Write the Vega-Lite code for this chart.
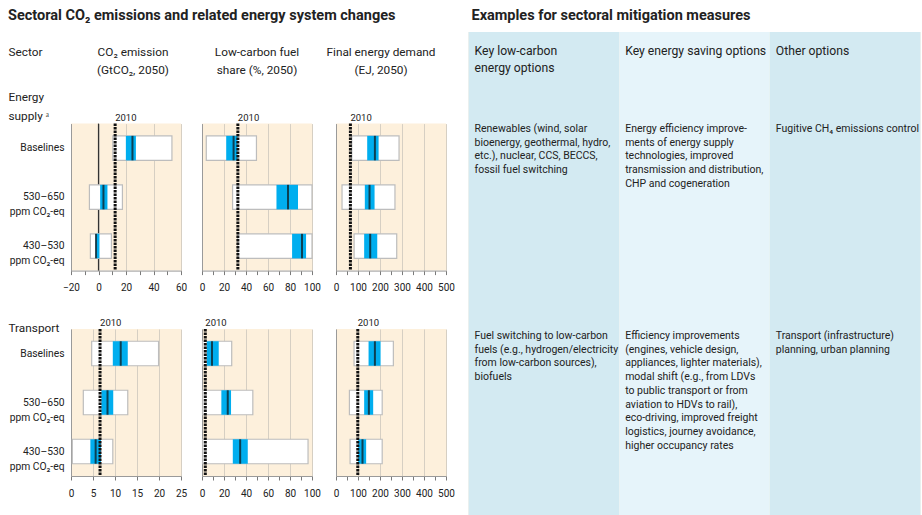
{
  "$schema": "https://vega.github.io/schema/vega-lite/v6.json",
  "background": "white",
  "padding": {"left": 8, "top": 8, "right": 0, "bottom": 0},
  "autosize": {"type": "pad"},
  "columns": 2,
  "align": "none",
  "spacing": 13.5,
  "datasets": {
    "indicators": [
      {"indicator": "CO2 emission", "header": "CO₂ emission\n(GtCO₂, 2050)", "level": "Sector"},
      {"indicator": "Low-carbon fuel share", "header": "Low-carbon fuel\nshare (%, 2050)", "level": "Sector"},
      {"indicator": "Final energy demand", "header": "Final energy demand\n(EJ, 2050)", "level": "Sector"}
    ],
    "boxes": [
      {"sector": "Energy supply", "indicator": "CO2 emission", "scenario": "Baselines", "min": 10.4, "q1": 19.9, "median": 24.7, "q3": 27.2, "max": 53.4},
      {"sector": "Energy supply", "indicator": "CO2 emission", "scenario": "530–650 ppm CO₂-eq", "min": -6.6, "q1": 1.2, "median": 3.6, "q3": 6.5, "max": 17.4},
      {"sector": "Energy supply", "indicator": "CO2 emission", "scenario": "430–530 ppm CO₂-eq", "min": -5.9, "q1": -2.2, "median": -1.8, "q3": 0.7, "max": 9.4},
      {"sector": "Energy supply", "indicator": "Low-carbon fuel share", "scenario": "Baselines", "min": 3.9, "q1": 22, "median": 28.7, "q3": 32.3, "max": 49.5},
      {"sector": "Energy supply", "indicator": "Low-carbon fuel share", "scenario": "530–650 ppm CO₂-eq", "min": 27.8, "q1": 67.7, "median": 78.2, "q3": 87.3, "max": 100},
      {"sector": "Energy supply", "indicator": "Low-carbon fuel share", "scenario": "430–530 ppm CO₂-eq", "min": 32.5, "q1": 81.9, "median": 90.9, "q3": 94.6, "max": 100},
      {"sector": "Energy supply", "indicator": "Final energy demand", "scenario": "Baselines", "min": 71.6, "q1": 141.8, "median": 176.8, "q3": 193.6, "max": 286.6},
      {"sector": "Energy supply", "indicator": "Final energy demand", "scenario": "530–650 ppm CO₂-eq", "min": 27.4, "q1": 131, "median": 152.4, "q3": 175.3, "max": 268},
      {"sector": "Energy supply", "indicator": "Final energy demand", "scenario": "430–530 ppm CO₂-eq", "min": 82.3, "q1": 128, "median": 155.5, "q3": 187.5, "max": 276},
      {"sector": "Transport", "indicator": "CO2 emission", "scenario": "Baselines", "min": 4.7, "q1": 9.5, "median": 11.3, "q3": 12.9, "max": 19.9},
      {"sector": "Transport", "indicator": "CO2 emission", "scenario": "530–650 ppm CO₂-eq", "min": 2.8, "q1": 6.9, "median": 8.3, "q3": 9.6, "max": 12.9},
      {"sector": "Transport", "indicator": "CO2 emission", "scenario": "430–530 ppm CO₂-eq", "min": 0.3, "q1": 4.4, "median": 5.6, "q3": 6.8, "max": 9.5},
      {"sector": "Transport", "indicator": "Low-carbon fuel share", "scenario": "Baselines", "min": 0.5, "q1": 4.3, "median": 9.1, "q3": 15.2, "max": 27},
      {"sector": "Transport", "indicator": "Low-carbon fuel share", "scenario": "530–650 ppm CO₂-eq", "min": 0.5, "q1": 17.6, "median": 23.4, "q3": 26.4, "max": 46.2},
      {"sector": "Transport", "indicator": "Low-carbon fuel share", "scenario": "430–530 ppm CO₂-eq", "min": 0.5, "q1": 28, "median": 34.7, "q3": 41.6, "max": 96.4},
      {"sector": "Transport", "indicator": "Final energy demand", "scenario": "Baselines", "min": 82, "q1": 148, "median": 176.8, "q3": 202.7, "max": 260.7},
      {"sector": "Transport", "indicator": "Final energy demand", "scenario": "530–650 ppm CO₂-eq", "min": 61, "q1": 128, "median": 149.4, "q3": 169, "max": 210},
      {"sector": "Transport", "indicator": "Final energy demand", "scenario": "430–530 ppm CO₂-eq", "min": 64, "q1": 100.6, "median": 120.4, "q3": 137, "max": 210}
    ],
    "ref2010": [
      {"sector": "Energy supply", "indicator": "CO2 emission", "year": "2010", "value": 12.1},
      {"sector": "Energy supply", "indicator": "Low-carbon fuel share", "year": "2010", "value": 32.6},
      {"sector": "Energy supply", "indicator": "Final energy demand", "year": "2010", "value": 65.5},
      {"sector": "Transport", "indicator": "CO2 emission", "year": "2010", "value": 6.6},
      {"sector": "Transport", "indicator": "Low-carbon fuel share", "year": "2010", "value": 3},
      {"sector": "Transport", "indicator": "Final energy demand", "year": "2010", "value": 99}
    ],
    "options": [
      {"row": "header", "col": "low-carbon", "text": "Key low-carbon\nenergy options"},
      {"row": "header", "col": "saving", "text": "Key energy saving options"},
      {"row": "header", "col": "other", "text": "Other options"},
      {"row": "Energy supply", "col": "low-carbon", "text": "Renewables (wind, solar\nbioenergy, geothermal, hydro,\netc.), nuclear, CCS, BECCS,\nfossil fuel switching"},
      {"row": "Energy supply", "col": "saving", "text": "Energy efficiency improve-\nments of energy supply\ntechnologies, improved\ntransmission and distribution,\nCHP and cogeneration"},
      {"row": "Energy supply", "col": "other", "text": "Fugitive CH₄ emissions control"},
      {"row": "Transport", "col": "low-carbon", "text": "Fuel switching to low-carbon\nfuels (e.g., hydrogen/electricity\nfrom low-carbon sources),\nbiofuels"},
      {"row": "Transport", "col": "saving", "text": "Efficiency improvements\n(engines, vehicle design,\nappliances, lighter materials),\nmodal shift (e.g., from LDVs\nto public transport or from\naviation to HDVs to rail),\neco-driving, improved freight\nlogistics, journey avoidance,\nhigher occupancy rates"},
      {"row": "Transport", "col": "other", "text": "Transport (infrastructure)\nplanning, urban planning"}
    ]
  },
  "concat": [
    {
      "title": {"text": "Sectoral CO₂ emissions and related energy system changes", "anchor": "start", "offset": 8.5},
      "spacing": 9.6,
      "vconcat": [
        {
          "width": 372, "height": 50,
          "view": {"fill": null, "stroke": null},
          "data": {"name": "indicators"},
          "mark": {"type": "text", "align": "center", "baseline": "alphabetic", "dy": -1.5, "fontSize": 11.8, "lineHeight": 18, "lineBreak": "\n"},
          "encoding": {
            "x": {"field": "indicator", "type": "nominal", "scale": {"domain": ["CO2 emission", "Low-carbon fuel share", "Final energy demand"], "paddingInner": 0.255, "paddingOuter": 0}, "axis": null},
            "y": {"field": "level", "type": "nominal", "scale": {"paddingInner": 0, "paddingOuter": 0},
                  "axis": {"title": "Sector", "labels": false, "ticks": false, "domain": false, "grid": false, "titleAngle": 0, "titleAlign": "left", "titleBaseline": "alphabetic", "titleX": -63, "titleY": 23.5, "titleFontSize": 11.8}},
            "text": {"field": "header"}
          }
        },
        {
          "columns": 3,
          "align": "each",
          "spacing": {"row": 25.4, "column": 12},
          "concat": [
            {
              "width": 110, "height": 147,
              "layer": [
                {"data": {"values": [{}]}, "mark": {"type": "rule", "color": "#333333", "strokeWidth": 1.2},
                 "encoding": {"x": {"datum": 0, "type": "quantitative", "axis": {"orient": "bottom", "title": null, "values": [-20, -10, 0, 10, 20, 30, 40, 50, 60], "labelExpr": "datum.value % 20 === 0 ? datum.label : ''", "gridOpacity": {"condition": {"test": "datum.value % 20 === 0", "value": 1}, "value": 0}}}}},
                {"data": {"name": "boxes"}, "transform": [{"filter": "datum.sector === 'Energy supply' && datum.indicator === 'CO2 emission'"}],
                 "mark": {"type": "bar", "fill": "#ffffff", "stroke": "#bdbdbd", "strokeWidth": 1.2},
                 "encoding": {
                   "y": {"field": "scenario", "type": "nominal", "scale": {"domain": ["Baselines", "530–650 ppm CO₂-eq", "430–530 ppm CO₂-eq"], "paddingInner": 0.5, "paddingOuter": 0.25},
                         "axis": {"title": ["Energy", "supply ᵃ"], "titleAngle": 0, "titleAlign": "left", "titleBaseline": "alphabetic", "titleX": -63, "titleY": -23, "titleLineHeight": 19, "titleFontSize": 11.8,
                                  "labelExpr": "indexof(datum.label, ' ppm') > 0 ? [substring(datum.label, 0, indexof(datum.label, ' ppm')), substring(datum.label, indexof(datum.label, ' ppm') + 1)] : datum.label", "labelLineHeight": 15}},
                   "x": {"field": "min", "type": "quantitative", "scale": {"domain": [-20, 60], "nice": false, "zero": false},
                         "axis": {"orient": "bottom", "title": null, "values": [-20, -10, 0, 10, 20, 30, 40, 50, 60], "labelExpr": "datum.value % 20 === 0 ? datum.label : ''", "gridOpacity": {"condition": {"test": "datum.value % 20 === 0", "value": 1}, "value": 0}}},
                   "x2": {"field": "max"}
                 }},
                {"data": {"name": "boxes"}, "transform": [{"filter": "datum.sector === 'Energy supply' && datum.indicator === 'CO2 emission'"}],
                 "mark": {"type": "bar", "fill": "#00aeef"},
                 "encoding": {"y": {"field": "scenario", "type": "nominal"},
                              "x": {"field": "q1", "type": "quantitative", "axis": {"orient": "bottom", "title": null, "values": [-20, -10, 0, 10, 20, 30, 40, 50, 60], "labelExpr": "datum.value % 20 === 0 ? datum.label : ''", "gridOpacity": {"condition": {"test": "datum.value % 20 === 0", "value": 1}, "value": 0}}}, "x2": {"field": "q3"}}},
                {"data": {"name": "boxes"}, "transform": [{"filter": "datum.sector === 'Energy supply' && datum.indicator === 'CO2 emission'"}],
                 "mark": {"type": "tick", "color": "#111111", "thickness": 2, "size": 24.5},
                 "encoding": {"y": {"field": "scenario", "type": "nominal"},
                              "x": {"field": "median", "type": "quantitative", "axis": {"orient": "bottom", "title": null, "values": [-20, -10, 0, 10, 20, 30, 40, 50, 60], "labelExpr": "datum.value % 20 === 0 ? datum.label : ''", "gridOpacity": {"condition": {"test": "datum.value % 20 === 0", "value": 1}, "value": 0}}}}},
                {"data": {"name": "ref2010"}, "transform": [{"filter": "datum.sector === 'Energy supply' && datum.indicator === 'CO2 emission'"}],
                 "mark": {"type": "rule", "color": "#111111", "strokeWidth": 3, "strokeDash": [2.5, 1]},
                 "encoding": {"x": {"field": "value", "type": "quantitative", "axis": {"orient": "bottom", "title": null, "values": [-20, -10, 0, 10, 20, 30, 40, 50, 60], "labelExpr": "datum.value % 20 === 0 ? datum.label : ''", "gridOpacity": {"condition": {"test": "datum.value % 20 === 0", "value": 1}, "value": 0}}}}},
                {"data": {"name": "ref2010"}, "transform": [{"filter": "datum.sector === 'Energy supply' && datum.indicator === 'CO2 emission'"}],
                 "mark": {"type": "text", "align": "left", "baseline": "alphabetic", "dy": -3, "fontSize": 9.5},
                 "encoding": {"x": {"field": "value", "type": "quantitative", "axis": {"orient": "bottom", "title": null, "values": [-20, -10, 0, 10, 20, 30, 40, 50, 60], "labelExpr": "datum.value % 20 === 0 ? datum.label : ''", "gridOpacity": {"condition": {"test": "datum.value % 20 === 0", "value": 1}, "value": 0}}},
                              "y": {"value": 0}, "text": {"field": "year", "type": "nominal"}}}
              ]
            },
            {
              "width": 110, "height": 147,
              "layer": [
                {"data": {"name": "boxes"}, "transform": [{"filter": "datum.sector === 'Energy supply' && datum.indicator === 'Low-carbon fuel share'"}],
                 "mark": {"type": "bar", "fill": "#ffffff", "stroke": "#bdbdbd", "strokeWidth": 1.2},
                 "encoding": {
                   "y": {"field": "scenario", "type": "nominal", "scale": {"domain": ["Baselines", "530–650 ppm CO₂-eq", "430–530 ppm CO₂-eq"], "paddingInner": 0.5, "paddingOuter": 0.25}, "axis": {"title": null, "labels": false}},
                   "x": {"field": "min", "type": "quantitative", "scale": {"domain": [0, 100], "nice": false, "zero": false},
                         "axis": {"orient": "bottom", "title": null, "values": [0, 10, 20, 30, 40, 50, 60, 70, 80, 90, 100], "labelExpr": "datum.value % 20 === 0 ? datum.label : ''", "gridOpacity": {"condition": {"test": "datum.value % 20 === 0", "value": 1}, "value": 0}}},
                   "x2": {"field": "max"}
                 }},
                {"data": {"name": "boxes"}, "transform": [{"filter": "datum.sector === 'Energy supply' && datum.indicator === 'Low-carbon fuel share'"}],
                 "mark": {"type": "bar", "fill": "#00aeef"},
                 "encoding": {"y": {"field": "scenario", "type": "nominal"},
                              "x": {"field": "q1", "type": "quantitative", "axis": {"orient": "bottom", "title": null, "values": [0, 10, 20, 30, 40, 50, 60, 70, 80, 90, 100], "labelExpr": "datum.value % 20 === 0 ? datum.label : ''", "gridOpacity": {"condition": {"test": "datum.value % 20 === 0", "value": 1}, "value": 0}}}, "x2": {"field": "q3"}}},
                {"data": {"name": "boxes"}, "transform": [{"filter": "datum.sector === 'Energy supply' && datum.indicator === 'Low-carbon fuel share'"}],
                 "mark": {"type": "tick", "color": "#111111", "thickness": 2, "size": 24.5},
                 "encoding": {"y": {"field": "scenario", "type": "nominal"},
                              "x": {"field": "median", "type": "quantitative", "axis": {"orient": "bottom", "title": null, "values": [0, 10, 20, 30, 40, 50, 60, 70, 80, 90, 100], "labelExpr": "datum.value % 20 === 0 ? datum.label : ''", "gridOpacity": {"condition": {"test": "datum.value % 20 === 0", "value": 1}, "value": 0}}}}},
                {"data": {"name": "ref2010"}, "transform": [{"filter": "datum.sector === 'Energy supply' && datum.indicator === 'Low-carbon fuel share'"}],
                 "mark": {"type": "rule", "color": "#111111", "strokeWidth": 3, "strokeDash": [2.5, 1]},
                 "encoding": {"x": {"field": "value", "type": "quantitative", "axis": {"orient": "bottom", "title": null, "values": [0, 10, 20, 30, 40, 50, 60, 70, 80, 90, 100], "labelExpr": "datum.value % 20 === 0 ? datum.label : ''", "gridOpacity": {"condition": {"test": "datum.value % 20 === 0", "value": 1}, "value": 0}}}}},
                {"data": {"name": "ref2010"}, "transform": [{"filter": "datum.sector === 'Energy supply' && datum.indicator === 'Low-carbon fuel share'"}],
                 "mark": {"type": "text", "align": "left", "baseline": "alphabetic", "dy": -3, "fontSize": 9.5},
                 "encoding": {"x": {"field": "value", "type": "quantitative", "axis": {"orient": "bottom", "title": null, "values": [0, 10, 20, 30, 40, 50, 60, 70, 80, 90, 100], "labelExpr": "datum.value % 20 === 0 ? datum.label : ''", "gridOpacity": {"condition": {"test": "datum.value % 20 === 0", "value": 1}, "value": 0}}},
                              "y": {"value": 0}, "text": {"field": "year", "type": "nominal"}}}
              ]
            },
            {
              "width": 110, "height": 147,
              "layer": [
                {"data": {"name": "boxes"}, "transform": [{"filter": "datum.sector === 'Energy supply' && datum.indicator === 'Final energy demand'"}],
                 "mark": {"type": "bar", "fill": "#ffffff", "stroke": "#bdbdbd", "strokeWidth": 1.2},
                 "encoding": {
                   "y": {"field": "scenario", "type": "nominal", "scale": {"domain": ["Baselines", "530–650 ppm CO₂-eq", "430–530 ppm CO₂-eq"], "paddingInner": 0.5, "paddingOuter": 0.25}, "axis": {"title": null, "labels": false}},
                   "x": {"field": "min", "type": "quantitative", "scale": {"domain": [0, 500], "nice": false, "zero": false},
                         "axis": {"orient": "bottom", "title": null, "values": [0, 50, 100, 150, 200, 250, 300, 350, 400, 450, 500], "labelExpr": "datum.value % 100 === 0 ? datum.label : ''", "gridOpacity": {"condition": {"test": "datum.value % 100 === 0", "value": 1}, "value": 0}}},
                   "x2": {"field": "max"}
                 }},
                {"data": {"name": "boxes"}, "transform": [{"filter": "datum.sector === 'Energy supply' && datum.indicator === 'Final energy demand'"}],
                 "mark": {"type": "bar", "fill": "#00aeef"},
                 "encoding": {"y": {"field": "scenario", "type": "nominal"},
                              "x": {"field": "q1", "type": "quantitative", "axis": {"orient": "bottom", "title": null, "values": [0, 50, 100, 150, 200, 250, 300, 350, 400, 450, 500], "labelExpr": "datum.value % 100 === 0 ? datum.label : ''", "gridOpacity": {"condition": {"test": "datum.value % 100 === 0", "value": 1}, "value": 0}}}, "x2": {"field": "q3"}}},
                {"data": {"name": "boxes"}, "transform": [{"filter": "datum.sector === 'Energy supply' && datum.indicator === 'Final energy demand'"}],
                 "mark": {"type": "tick", "color": "#111111", "thickness": 2, "size": 24.5},
                 "encoding": {"y": {"field": "scenario", "type": "nominal"},
                              "x": {"field": "median", "type": "quantitative", "axis": {"orient": "bottom", "title": null, "values": [0, 50, 100, 150, 200, 250, 300, 350, 400, 450, 500], "labelExpr": "datum.value % 100 === 0 ? datum.label : ''", "gridOpacity": {"condition": {"test": "datum.value % 100 === 0", "value": 1}, "value": 0}}}}},
                {"data": {"name": "ref2010"}, "transform": [{"filter": "datum.sector === 'Energy supply' && datum.indicator === 'Final energy demand'"}],
                 "mark": {"type": "rule", "color": "#111111", "strokeWidth": 3, "strokeDash": [2.5, 1]},
                 "encoding": {"x": {"field": "value", "type": "quantitative", "axis": {"orient": "bottom", "title": null, "values": [0, 50, 100, 150, 200, 250, 300, 350, 400, 450, 500], "labelExpr": "datum.value % 100 === 0 ? datum.label : ''", "gridOpacity": {"condition": {"test": "datum.value % 100 === 0", "value": 1}, "value": 0}}}}},
                {"data": {"name": "ref2010"}, "transform": [{"filter": "datum.sector === 'Energy supply' && datum.indicator === 'Final energy demand'"}],
                 "mark": {"type": "text", "align": "left", "baseline": "alphabetic", "dy": -3, "fontSize": 9.5},
                 "encoding": {"x": {"field": "value", "type": "quantitative", "axis": {"orient": "bottom", "title": null, "values": [0, 50, 100, 150, 200, 250, 300, 350, 400, 450, 500], "labelExpr": "datum.value % 100 === 0 ? datum.label : ''", "gridOpacity": {"condition": {"test": "datum.value % 100 === 0", "value": 1}, "value": 0}}},
                              "y": {"value": 0}, "text": {"field": "year", "type": "nominal"}}}
              ]
            },
            {
              "width": 110, "height": 147,
              "layer": [
                {"data": {"name": "boxes"}, "transform": [{"filter": "datum.sector === 'Transport' && datum.indicator === 'CO2 emission'"}],
                 "mark": {"type": "bar", "fill": "#ffffff", "stroke": "#bdbdbd", "strokeWidth": 1.2},
                 "encoding": {
                   "y": {"field": "scenario", "type": "nominal", "scale": {"domain": ["Baselines", "530–650 ppm CO₂-eq", "430–530 ppm CO₂-eq"], "paddingInner": 0.5, "paddingOuter": 0.25},
                         "axis": {"title": "Transport", "titleAngle": 0, "titleAlign": "left", "titleBaseline": "alphabetic", "titleX": -63, "titleY": 2, "titleFontSize": 11.8,
                                  "labelExpr": "indexof(datum.label, ' ppm') > 0 ? [substring(datum.label, 0, indexof(datum.label, ' ppm')), substring(datum.label, indexof(datum.label, ' ppm') + 1)] : datum.label", "labelLineHeight": 15}},
                   "x": {"field": "min", "type": "quantitative", "scale": {"domain": [0, 25], "nice": false, "zero": false},
                         "axis": {"orient": "bottom", "title": null, "values": [0, 5, 10, 15, 20, 25]}},
                   "x2": {"field": "max"}
                 }},
                {"data": {"name": "boxes"}, "transform": [{"filter": "datum.sector === 'Transport' && datum.indicator === 'CO2 emission'"}],
                 "mark": {"type": "bar", "fill": "#00aeef"},
                 "encoding": {"y": {"field": "scenario", "type": "nominal"}, "x": {"field": "q1", "type": "quantitative", "axis": {"orient": "bottom", "title": null, "values": [0, 5, 10, 15, 20, 25]}}, "x2": {"field": "q3"}}},
                {"data": {"name": "boxes"}, "transform": [{"filter": "datum.sector === 'Transport' && datum.indicator === 'CO2 emission'"}],
                 "mark": {"type": "tick", "color": "#111111", "thickness": 2, "size": 24.5},
                 "encoding": {"y": {"field": "scenario", "type": "nominal"}, "x": {"field": "median", "type": "quantitative", "axis": {"orient": "bottom", "title": null, "values": [0, 5, 10, 15, 20, 25]}}}},
                {"data": {"name": "ref2010"}, "transform": [{"filter": "datum.sector === 'Transport' && datum.indicator === 'CO2 emission'"}],
                 "mark": {"type": "rule", "color": "#111111", "strokeWidth": 3, "strokeDash": [2.5, 1]},
                 "encoding": {"x": {"field": "value", "type": "quantitative", "axis": {"orient": "bottom", "title": null, "values": [0, 5, 10, 15, 20, 25]}}}},
                {"data": {"name": "ref2010"}, "transform": [{"filter": "datum.sector === 'Transport' && datum.indicator === 'CO2 emission'"}],
                 "mark": {"type": "text", "align": "left", "baseline": "alphabetic", "dy": -3, "fontSize": 9.5},
                 "encoding": {"x": {"field": "value", "type": "quantitative", "axis": {"orient": "bottom", "title": null, "values": [0, 5, 10, 15, 20, 25]}}, "y": {"value": 0}, "text": {"field": "year", "type": "nominal"}}}
              ]
            },
            {
              "width": 110, "height": 147,
              "layer": [
                {"data": {"name": "boxes"}, "transform": [{"filter": "datum.sector === 'Transport' && datum.indicator === 'Low-carbon fuel share'"}],
                 "mark": {"type": "bar", "fill": "#ffffff", "stroke": "#bdbdbd", "strokeWidth": 1.2},
                 "encoding": {
                   "y": {"field": "scenario", "type": "nominal", "scale": {"domain": ["Baselines", "530–650 ppm CO₂-eq", "430–530 ppm CO₂-eq"], "paddingInner": 0.5, "paddingOuter": 0.25}, "axis": {"title": null, "labels": false}},
                   "x": {"field": "min", "type": "quantitative", "scale": {"domain": [0, 100], "nice": false, "zero": false},
                         "axis": {"orient": "bottom", "title": null, "values": [0, 10, 20, 30, 40, 50, 60, 70, 80, 90, 100], "labelExpr": "datum.value % 20 === 0 ? datum.label : ''", "gridOpacity": {"condition": {"test": "datum.value % 20 === 0", "value": 1}, "value": 0}}},
                   "x2": {"field": "max"}
                 }},
                {"data": {"name": "boxes"}, "transform": [{"filter": "datum.sector === 'Transport' && datum.indicator === 'Low-carbon fuel share'"}],
                 "mark": {"type": "bar", "fill": "#00aeef"},
                 "encoding": {"y": {"field": "scenario", "type": "nominal"},
                              "x": {"field": "q1", "type": "quantitative", "axis": {"orient": "bottom", "title": null, "values": [0, 10, 20, 30, 40, 50, 60, 70, 80, 90, 100], "labelExpr": "datum.value % 20 === 0 ? datum.label : ''", "gridOpacity": {"condition": {"test": "datum.value % 20 === 0", "value": 1}, "value": 0}}}, "x2": {"field": "q3"}}},
                {"data": {"name": "boxes"}, "transform": [{"filter": "datum.sector === 'Transport' && datum.indicator === 'Low-carbon fuel share'"}],
                 "mark": {"type": "tick", "color": "#111111", "thickness": 2, "size": 24.5},
                 "encoding": {"y": {"field": "scenario", "type": "nominal"},
                              "x": {"field": "median", "type": "quantitative", "axis": {"orient": "bottom", "title": null, "values": [0, 10, 20, 30, 40, 50, 60, 70, 80, 90, 100], "labelExpr": "datum.value % 20 === 0 ? datum.label : ''", "gridOpacity": {"condition": {"test": "datum.value % 20 === 0", "value": 1}, "value": 0}}}}},
                {"data": {"name": "ref2010"}, "transform": [{"filter": "datum.sector === 'Transport' && datum.indicator === 'Low-carbon fuel share'"}],
                 "mark": {"type": "rule", "color": "#111111", "strokeWidth": 3, "strokeDash": [2.5, 1]},
                 "encoding": {"x": {"field": "value", "type": "quantitative", "axis": {"orient": "bottom", "title": null, "values": [0, 10, 20, 30, 40, 50, 60, 70, 80, 90, 100], "labelExpr": "datum.value % 20 === 0 ? datum.label : ''", "gridOpacity": {"condition": {"test": "datum.value % 20 === 0", "value": 1}, "value": 0}}}}},
                {"data": {"name": "ref2010"}, "transform": [{"filter": "datum.sector === 'Transport' && datum.indicator === 'Low-carbon fuel share'"}],
                 "mark": {"type": "text", "align": "left", "baseline": "alphabetic", "dy": -3, "fontSize": 9.5},
                 "encoding": {"x": {"field": "value", "type": "quantitative", "axis": {"orient": "bottom", "title": null, "values": [0, 10, 20, 30, 40, 50, 60, 70, 80, 90, 100], "labelExpr": "datum.value % 20 === 0 ? datum.label : ''", "gridOpacity": {"condition": {"test": "datum.value % 20 === 0", "value": 1}, "value": 0}}},
                              "y": {"value": 0}, "text": {"field": "year", "type": "nominal"}}}
              ]
            },
            {
              "width": 110, "height": 147,
              "layer": [
                {"data": {"name": "boxes"}, "transform": [{"filter": "datum.sector === 'Transport' && datum.indicator === 'Final energy demand'"}],
                 "mark": {"type": "bar", "fill": "#ffffff", "stroke": "#bdbdbd", "strokeWidth": 1.2},
                 "encoding": {
                   "y": {"field": "scenario", "type": "nominal", "scale": {"domain": ["Baselines", "530–650 ppm CO₂-eq", "430–530 ppm CO₂-eq"], "paddingInner": 0.5, "paddingOuter": 0.25}, "axis": {"title": null, "labels": false}},
                   "x": {"field": "min", "type": "quantitative", "scale": {"domain": [0, 500], "nice": false, "zero": false},
                         "axis": {"orient": "bottom", "title": null, "values": [0, 50, 100, 150, 200, 250, 300, 350, 400, 450, 500], "labelExpr": "datum.value % 100 === 0 ? datum.label : ''", "gridOpacity": {"condition": {"test": "datum.value % 100 === 0", "value": 1}, "value": 0}}},
                   "x2": {"field": "max"}
                 }},
                {"data": {"name": "boxes"}, "transform": [{"filter": "datum.sector === 'Transport' && datum.indicator === 'Final energy demand'"}],
                 "mark": {"type": "bar", "fill": "#00aeef"},
                 "encoding": {"y": {"field": "scenario", "type": "nominal"},
                              "x": {"field": "q1", "type": "quantitative", "axis": {"orient": "bottom", "title": null, "values": [0, 50, 100, 150, 200, 250, 300, 350, 400, 450, 500], "labelExpr": "datum.value % 100 === 0 ? datum.label : ''", "gridOpacity": {"condition": {"test": "datum.value % 100 === 0", "value": 1}, "value": 0}}}, "x2": {"field": "q3"}}},
                {"data": {"name": "boxes"}, "transform": [{"filter": "datum.sector === 'Transport' && datum.indicator === 'Final energy demand'"}],
                 "mark": {"type": "tick", "color": "#111111", "thickness": 2, "size": 24.5},
                 "encoding": {"y": {"field": "scenario", "type": "nominal"},
                              "x": {"field": "median", "type": "quantitative", "axis": {"orient": "bottom", "title": null, "values": [0, 50, 100, 150, 200, 250, 300, 350, 400, 450, 500], "labelExpr": "datum.value % 100 === 0 ? datum.label : ''", "gridOpacity": {"condition": {"test": "datum.value % 100 === 0", "value": 1}, "value": 0}}}}},
                {"data": {"name": "ref2010"}, "transform": [{"filter": "datum.sector === 'Transport' && datum.indicator === 'Final energy demand'"}],
                 "mark": {"type": "rule", "color": "#111111", "strokeWidth": 3, "strokeDash": [2.5, 1]},
                 "encoding": {"x": {"field": "value", "type": "quantitative", "axis": {"orient": "bottom", "title": null, "values": [0, 50, 100, 150, 200, 250, 300, 350, 400, 450, 500], "labelExpr": "datum.value % 100 === 0 ? datum.label : ''", "gridOpacity": {"condition": {"test": "datum.value % 100 === 0", "value": 1}, "value": 0}}}}},
                {"data": {"name": "ref2010"}, "transform": [{"filter": "datum.sector === 'Transport' && datum.indicator === 'Final energy demand'"}],
                 "mark": {"type": "text", "align": "left", "baseline": "alphabetic", "dy": -3, "fontSize": 9.5},
                 "encoding": {"x": {"field": "value", "type": "quantitative", "axis": {"orient": "bottom", "title": null, "values": [0, 50, 100, 150, 200, 250, 300, 350, 400, 450, 500], "labelExpr": "datum.value % 100 === 0 ? datum.label : ''", "gridOpacity": {"condition": {"test": "datum.value % 100 === 0", "value": 1}, "value": 0}}},
                              "y": {"value": 0}, "text": {"field": "year", "type": "nominal"}}}
              ]
            }
          ]
        }
      ]
    },
    {
      "title": {"text": "Examples for sectoral mitigation measures", "anchor": "start", "offset": 8.5, "dx": 3},
      "spacing": 0,
      "vconcat": [
        {
          "width": 452, "height": 90,
          "data": {"name": "options"},
          "transform": [{"filter": "datum.row === 'header'"}],
          "layer": [
            {"mark": {"type": "rect"},
             "encoding": {"x": {"field": "col", "type": "nominal", "scale": {"domain": ["low-carbon", "saving", "other"], "paddingInner": 0, "paddingOuter": 0}, "axis": null},
                          "color": {"field": "col", "type": "nominal", "scale": {"domain": ["low-carbon", "saving", "other"], "range": ["#d3eaf2", "#e6f4fa", "#d3eaf2"]}, "legend": null}}},
            {"mark": {"type": "text", "align": "left", "baseline": "alphabetic", "dx": 6, "dy": 23, "fontSize": 12.2, "lineHeight": 17, "lineBreak": "\n", "clip": true},
             "encoding": {"x": {"field": "col", "type": "nominal", "bandPosition": 0}, "y": {"value": 0}, "text": {"field": "text"}}}
          ]
        },
        {
          "width": 452, "height": 207,
          "data": {"name": "options"},
          "transform": [{"filter": "datum.row === 'Energy supply'"}],
          "layer": [
            {"mark": {"type": "rect"},
             "encoding": {"x": {"field": "col", "type": "nominal", "scale": {"domain": ["low-carbon", "saving", "other"], "paddingInner": 0, "paddingOuter": 0}, "axis": null},
                          "color": {"field": "col", "type": "nominal", "scale": {"domain": ["low-carbon", "saving", "other"], "range": ["#d3eaf2", "#e6f4fa", "#d3eaf2"]}, "legend": null}}},
            {"mark": {"type": "text", "align": "left", "baseline": "alphabetic", "dx": 6, "dy": 10, "fontSize": 10.5, "lineHeight": 13.7, "lineBreak": "\n", "clip": true},
             "encoding": {"x": {"field": "col", "type": "nominal", "bandPosition": 0}, "y": {"value": 0}, "text": {"field": "text"}}}
          ]
        },
        {
          "width": 452, "height": 186,
          "data": {"name": "options"},
          "transform": [{"filter": "datum.row === 'Transport'"}],
          "layer": [
            {"mark": {"type": "rect"},
             "encoding": {"x": {"field": "col", "type": "nominal", "scale": {"domain": ["low-carbon", "saving", "other"], "paddingInner": 0, "paddingOuter": 0}, "axis": null},
                          "color": {"field": "col", "type": "nominal", "scale": {"domain": ["low-carbon", "saving", "other"], "range": ["#d3eaf2", "#e6f4fa", "#d3eaf2"]}, "legend": null}}},
            {"mark": {"type": "text", "align": "left", "baseline": "alphabetic", "dx": 6, "dy": 10, "fontSize": 10.5, "lineHeight": 13.7, "lineBreak": "\n", "clip": true},
             "encoding": {"x": {"field": "col", "type": "nominal", "bandPosition": 0}, "y": {"value": 0}, "text": {"field": "text"}}}
          ]
        }
      ]
    }
  ],
  "config": {
    "font": "Roboto",
    "view": {"stroke": null, "fill": "#fdf0dc"},
    "title": {"font": "Roboto", "fontSize": 14.5, "fontWeight": "bold", "color": "#222222", "anchor": "start"},
    "text": {"color": "#222222", "font": "Roboto"},
    "axis": {"labelFont": "Roboto", "titleFont": "Roboto", "labelColor": "#222222", "titleColor": "#222222", "titleFontWeight": "normal", "domainColor": "#9a9a9a", "tickColor": "#7a7a7a", "gridColor": "#d6cfc3"},
    "axisX": {"tickSize": 4, "labelPadding": 8, "labelFontSize": 10, "labelFlush": false, "labelOverlap": false, "labelBound": false, "grid": true},
    "axisY": {"ticks": false, "labelPadding": 7, "labelFontSize": 10.3, "grid": false, "labelAlign": "right"}
  }
}
